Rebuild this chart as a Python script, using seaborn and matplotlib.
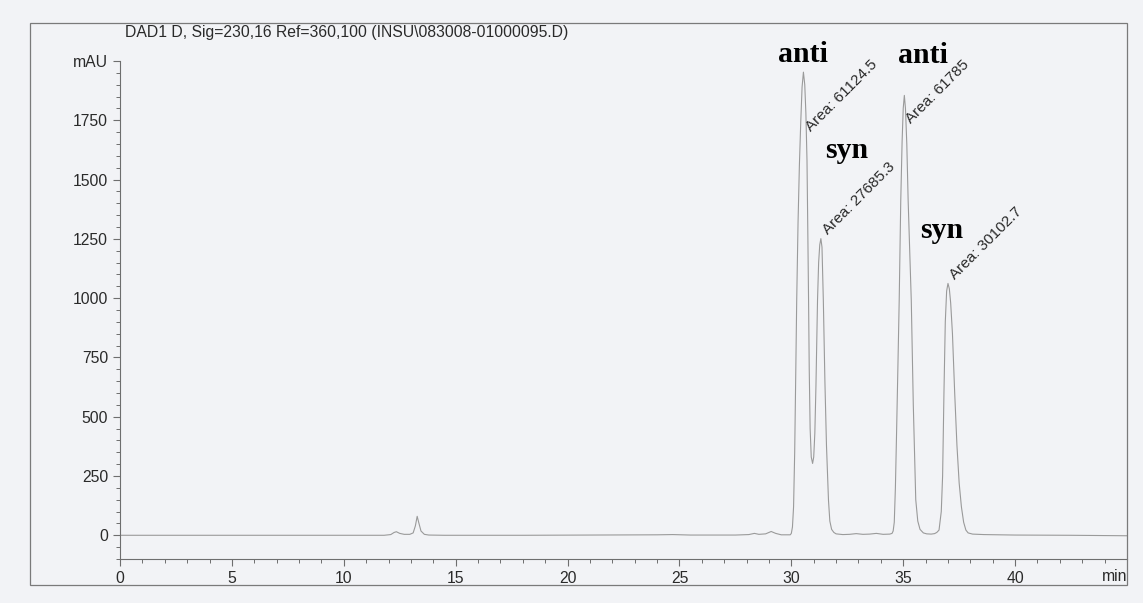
import matplotlib
matplotlib.use("Agg")
import matplotlib.pyplot as plt
from matplotlib.patches import Rectangle
from matplotlib.ticker import MultipleLocator, FixedLocator
import matplotlib.transforms as mtransforms
import pandas as pd
import seaborn as sns

# Chromatogram trace: retention time (min) and detector signal (mAU)
time_min = [
    0.0, 4.0, 8.0, 11.8, 12.1, 12.25, 12.35, 12.5, 12.7, 12.95, 13.1, 13.2,
    13.28, 13.36, 13.45, 13.6, 13.8, 14.5, 18.0, 21.0, 24.0, 24.7, 25.5, 27.5,
    28.1, 28.35, 28.55, 28.85, 29.1, 29.3, 29.55, 29.95,
    30.0, 30.05, 30.1, 30.15, 30.2, 30.24, 30.3, 30.36, 30.42, 30.48, 30.54,
    30.6, 30.65, 30.7, 30.74, 30.77, 30.8, 30.84, 30.89, 30.95,
    31.0, 31.05, 31.1, 31.17, 31.22, 31.27, 31.32, 31.37, 31.43, 31.5, 31.57,
    31.66, 31.72, 31.8, 31.9, 32.0, 32.3, 32.6, 32.9, 33.2, 33.5, 33.8, 34.1,
    34.4,
    34.5, 34.55, 34.6, 34.65, 34.7, 34.76, 34.82, 34.89, 34.95, 35.0, 35.05,
    35.1, 35.16, 35.22, 35.29, 35.36, 35.45, 35.56, 35.65, 35.75, 35.9, 36.05,
    36.25, 36.4, 36.5, 36.6,
    36.7, 36.76, 36.82, 36.88, 36.94, 37.0, 37.06, 37.12, 37.2, 37.3, 37.4,
    37.5, 37.6, 37.7, 37.8, 37.9, 38.1, 38.6, 40.0, 42.5, 45.0,
]
signal_mau = [
    0, 0, 0, 0, 3, 12, 15, 8, 4, 4, 10, 40,
    80, 50, 18, 4, 1, 0, 0, 1, 2, 3, 1, 1,
    3, 8, 4, 6, 16, 8, 2, 2,
    8, 35, 120, 350, 700, 990, 1320, 1560, 1740, 1890, 1953,
    1900, 1780, 1580, 1250, 990, 700, 450, 330, 303,
    330, 430, 630, 990, 1150, 1225, 1251, 1215, 990, 650, 380,
    148, 60, 25, 12, 6, 3, 4, 7, 4, 5, 8, 4,
    5,
    8, 18, 55, 200, 420, 700, 990, 1412, 1660, 1800, 1855,
    1800, 1650, 1412, 1200, 990, 550, 150, 60, 25, 10, 6,
    5, 7, 12, 22,
    100, 250, 600, 900, 1030, 1062, 1040, 980, 850, 600, 380,
    220, 120, 55, 22, 10, 5, 3, 1, 0, -2,
]

# Peak annotations
isomer_names = ["anti", "syn", "anti", "syn"]
area_labels = ["Area: 61124.5", "Area: 27685.3", "Area: 61785", "Area: 30102.7"]

# Axis ticks
x_ticks = [0, 5, 10, 15, 20, 25, 30, 35, 40]
y_ticks = [0, 250, 500, 750, 1000, 1250, 1500, 1750, 2000]
y_tick_labels = ["0", "250", "500", "750", "1000", "1250", "1500", "1750", "mAU"]
x_unit = "min"
title_text = "DAD1 D, Sig=230,16 Ref=360,100 (INSU\\083008-01000095.D)"

# ---- layout / style ----
name_pos = [(30.5, 1994), (32.48, 1589), (35.9, 1990), (36.74, 1252)]
area_pos = [(30.9, 1700), (31.64, 1268), (35.36, 1735), (37.3, 1078)]

bg = "#f2f3f6"
ink = "#2a2a2a"
axis_col = "#6e6e6e"
trace_col = "#9a9a9a"

sns.set_theme(style="ticks")
plt.rcParams["font.family"] = ["Liberation Sans", "DejaVu Sans"]

fig = plt.figure(figsize=(11.43, 6.03), dpi=100, facecolor=bg)
ax = fig.add_axes([120 / 1143, 1 - 559 / 603, (1127 - 120) / 1143, (559 - 61) / 603])
ax.set_facecolor(bg)

df = pd.DataFrame({"time": time_min, "signal": signal_mau})
sns.lineplot(data=df, x="time", y="signal", ax=ax, color=trace_col,
             linewidth=0.8, estimator=None, sort=False)

ax.set_xlim(0, 45)
ax.set_ylim(-100, 2000)
ax.set_xlabel("")
ax.set_ylabel("")

ax.xaxis.set_major_locator(FixedLocator(x_ticks))
ax.xaxis.set_minor_locator(MultipleLocator(1))
ax.set_xticklabels([str(t) for t in x_ticks])
ax.yaxis.set_major_locator(FixedLocator(y_ticks))
ax.yaxis.set_minor_locator(MultipleLocator(50))
ax.set_yticklabels(y_tick_labels)

ax.tick_params(axis="both", which="major", direction="out", length=5,
               width=0.8, color=axis_col, labelsize=11.3, labelcolor=ink, pad=3.5)
ax.tick_params(axis="both", which="minor", direction="out", length=2.6,
               width=0.7, color=axis_col)

for side in ("top", "right"):
    ax.spines[side].set_visible(False)
for side in ("left", "bottom"):
    ax.spines[side].set_color(axis_col)
    ax.spines[side].set_linewidth(0.8)

# unit label at the right end of the time axis
trans = mtransforms.blended_transform_factory(ax.transData, ax.transAxes)
ax.text(45, -0.036, x_unit, transform=trans, ha="right", va="center",
        fontsize=11.3, color=ink, clip_on=False)

# area annotations, rotated along the peak flanks
for (x, y), lab in zip(area_pos, area_labels):
    ax.text(x, y, lab, rotation=45, rotation_mode="anchor", ha="left",
            va="baseline", fontsize=11.0, color=ink, clip_on=False)

# isomer names
for (x, y), name in zip(name_pos, isomer_names):
    ax.text(x, y, name, ha="center", va="baseline", fontsize=21.5,
            fontweight="bold", family=["Liberation Serif", "DejaVu Serif"],
            color="black", clip_on=False)

# report header and frame
fig.text(125 / 1143, 1 - 33 / 603, title_text, ha="left", va="center",
         fontsize=11.3, color=ink)
fig.patches.append(Rectangle((30 / 1143, 1 - 585 / 603), (1127 - 30) / 1143,
                             (585 - 23) / 603, transform=fig.transFigure,
                             fill=False, edgecolor="#7a7a7a", linewidth=0.9))

fig.savefig("out.png", dpi=100, facecolor=bg)
